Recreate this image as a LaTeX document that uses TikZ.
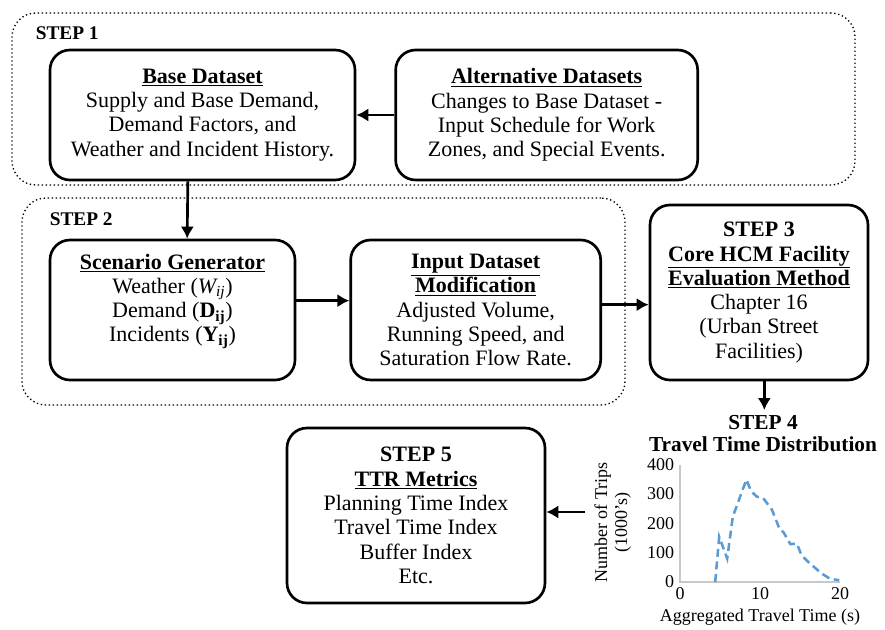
\documentclass[tikz,border=0pt]{standalone}
\usepackage{fontspec}
\setmainfont{Liberation Serif}
\usetikzlibrary{positioning,fit,arrows.meta}

\definecolor{curveblue}{RGB}{91,155,213}
\definecolor{axisgray}{RGB}{200,200,200}

\begin{document}
\begin{tikzpicture}[x=0.75pt, y=-0.75pt, line width=2pt, >={Latex[length=9pt,width=10pt]},
    box/.style={draw, rounded corners=15pt, align=center, inner sep=0pt,
        font=\fontsize{16.5}{18.2}\selectfont},
    frame/.style={draw, dotted, line width=1pt, rounded corners=18pt, inner sep=0pt},
    steplabel/.style={anchor=west, font=\fontsize{14.5}{17}\selectfont\bfseries},
    tick/.style={font=\fontsize{13.5}{15}\selectfont, inner sep=1pt},
    curve/.style={curveblue, line width=1.9pt, dash pattern=on 6pt off 3.5pt}]
    \useasboundingbox (0,0) rectangle (885,630);

    % step 1
    \node[box, minimum width=228.75pt, minimum height=97.5pt] (base) at (202.5,115)
        {\textbf{\underline{Base Dataset}}\\Supply and Base Demand,\\Demand Factors, and\\Weather and Incident History.};
    \node[box, minimum width=226.5pt, minimum height=97.5pt, right=28.5pt of base] (alt)
        {\textbf{\underline{Alternative Datasets}}\\Changes to Base Dataset -\\Input Schedule for Work\\Zones, and Special Events.};

    % step 2
    \node[box, minimum width=183.75pt, minimum height=105pt] (scen) at (172.5,310)
        {\textbf{\underline{Scenario Generator}}\\Weather (\textit{W\textsubscript{ij}})\\Demand (\textbf{D\textsubscript{ij}})\\Incidents (\textbf{Y\textsubscript{ij}})\\ \mbox{}};
    \node[box, minimum width=187.5pt, minimum height=105pt, right=39.75pt of scen] (input)
        {\textbf{\underline{Input Dataset}}\\\textbf{\underline{Modification}}\\Adjusted Volume,\\Running Speed, and\\Saturation Flow Rate.};

    % step 3 and step 5
    \node[box, minimum width=163.5pt, minimum height=131.25pt] (core) at (759,292.5)
        {\textbf{STEP 3}\\\textbf{\underline{Core HCM Facility}}\\\textbf{\underline{Evaluation Method}}\\Chapter 16\\(Urban Street\\Facilities)};
    \node[box, minimum width=193.5pt, minimum height=131.25pt] (ttr) at (416,515.5)
        {\textbf{STEP 5}\\\textbf{\underline{TTR Metrics}}\\Planning Time Index\\Travel Time Index\\Buffer Index\\Etc.};

    % dotted frames
    \coordinate (f1a) at (12,13);
    \coordinate (f1b) at (855,185);
    \coordinate (f2a) at (22,198);
    \coordinate (f2b) at (625,405);
    \node[frame, fit=(f1a) (f1b)] (stepA) {};
    \node[frame, fit=(f2a) (f2b)] (stepB) {};
    \node[steplabel] (labA) at (30,33) {STEP 1};
    \node[steplabel] (labB) at (44,219) {STEP 2};

    % step 4 chart
    \node[align=center, font=\fontsize{16}{16.5}\selectfont\bfseries] (dist) at (763,434)
        {STEP 4\\Travel Time Distribution};
    \begin{scope}[shift={(680,582)}, x=6pt, y=0.22pt]
        \draw[axisgray, line width=0.8pt] (0,400) -- (0,0) -- (20,0);
        \foreach \v in {0,100,...,400}
            \node[tick, anchor=east] (yt\v) at (-0.4,\v) {\v};
        \foreach \t in {0,10,20}
            \node[tick, anchor=north] (xt\t) at (\t,-10) {\t};
        \node[tick, below=3pt of xt10] (xlab) {Aggregated Travel Time (s)};
        \node[tick, rotate=90, align=center] (ylab) at (-8.4,202) {Number of Trips\\(1000's)};
        \draw[curve] plot coordinates {(4.4,0) (4.9,154) (5.9,80) (6.6,223) (8.3,349) (8.9,309)
            (9.6,291) (10.4,286) (11.5,246) (12.5,177) (12.9,171) (13.8,129) (14.6,131)
            (15.2,91) (16,69) (17.7,29) (18.75,11) (19.9,6)};
    \end{scope}
    \coordinate (chartin) at (585,512);

    % arrows
    \draw[->] (alt.west) -- (base.east);
    \draw[->] ([xshift=-11pt]base.south) -- ([xshift=11pt]scen.north);
    \draw[->] ([yshift=7pt]scen.east) -- ([yshift=7pt]input.west);
    \draw[->] ([yshift=4pt]input.east) -- ([yshift=4pt]input.east -| core.west);
    \draw[->] ([xshift=4pt]core.south) -- ([xshift=4pt]core.south |- dist.north);
    \draw[->] (chartin) -- (chartin -| ttr.east);
\end{tikzpicture}
\end{document}
